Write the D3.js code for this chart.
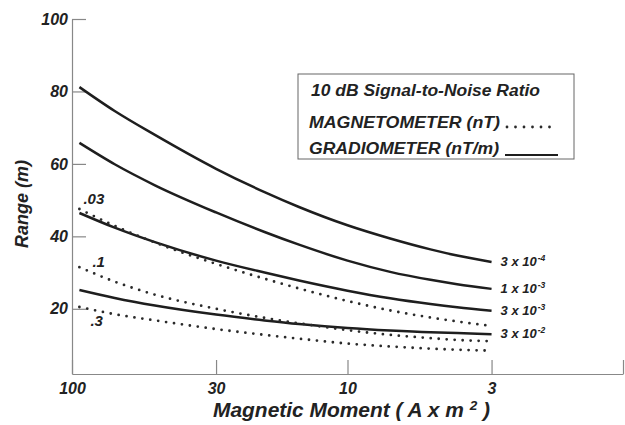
<!DOCTYPE html>
<html>
<head>
<meta charset="utf-8">
<script src="https://cdn.jsdelivr.net/npm/d3@7"></script>
<style>
  body { margin: 0; background: #fff; }
  text { font-family: "Liberation Sans", Arial, Helvetica, sans-serif; font-weight: bold; font-style: italic; fill: #222; }
</style>
</head>
<body>
<svg id="chart"></svg>
<script>
// magnetic moment (A x m^2), read left to right
const moment = [94, 70, 50, 30, 20, 15, 10, 7, 5, 4, 3];

// gradiometer curves (nT/m), range in m
const grad3e4 = [81.2, 74.6, 68.0, 58.65, 52.2, 48.1, 43.05, 39.4, 36.4, 34.7, 32.9];
const grad1e3 = [65.8, 59.9, 54.1, 46.6, 41.2, 37.7, 33.3, 30.2, 28.0, 26.8, 25.5];
const grad3e3 = [46.45, 42.4, 38.4, 33.3, 30.0, 27.8, 25.0, 22.9, 21.3, 20.4, 19.45];
const grad3e2 = [25.2, 23.0, 20.9, 18.4, 16.8, 15.8, 14.7, 14.0, 13.5, 13.3, 13.0];

// magnetometer curves (nT), range in m
const mag03 = [47.55, 42.9, 38.3, 32.4, 28.3, 25.6, 22.15, 19.55, 17.6, 16.5, 15.25];
const mag1 = [31.5, 27.5, 23.9, 20.0, 17.5, 16.0, 14.1, 12.8, 11.9, 11.4, 11.05];
const mag3 = [20.5, 18.5, 16.8, 14.4, 12.8, 11.75, 10.4, 9.6, 9.0, 8.7, 8.45];

const gradLabels = [["3 x 10", "-4"], ["1 x 10", "-3"], ["3 x 10", "-3"], ["3 x 10", "-2"]];
const magLabels = [".03", ".1", ".3"];

const xTicks = [100, 30, 10, 3, 1];
const xTickLabels = ["100", "30", "10", "3", ""];
const yTicks = [20, 40, 60, 80, 100];

const width = 625, height = 425;

const svg = d3.select("#chart")
  .attr("width", width)
  .attr("height", height);

const x = d3.scaleLog().domain([100, 1]).range([72, 623]);
const y = d3.scaleLinear().domain([2, 100]).range([374, 19]);

// axes
const xAxis = d3.axisBottom(x)
  .tickValues(xTicks)
  .tickFormat((d, i) => xTickLabels[i])
  .tickSizeInner(-14)
  .tickSizeOuter(0)
  .tickPadding(6);

const gx = svg.append("g")
  .attr("transform", `translate(0,${y(2)})`)
  .call(xAxis);

const yAxis = d3.axisLeft(y)
  .tickValues(yTicks)
  .tickSizeInner(-14)
  .tickSizeOuter(0)
  .tickPadding(4);

const gy = svg.append("g")
  .attr("transform", `translate(${x(100)},0)`)
  .call(yAxis);

[gx, gy].forEach(g => {
  g.select(".domain").attr("stroke", "#888").attr("stroke-width", 1.2);
  g.selectAll(".tick line").attr("stroke", "#888").attr("stroke-width", 1.2);
  g.selectAll(".tick text")
    .style("font-family", '"Liberation Sans", Arial, sans-serif')
    .style("font-weight", "bold")
    .style("font-style", "italic")
    .style("font-size", "16px")
    .attr("fill", "#222");
});
gx.selectAll(".tick text").attr("dy", "0.9em");

// axis titles
svg.append("text")
  .attr("transform", `translate(28,204) rotate(-90)`)
  .attr("text-anchor", "middle")
  .style("font-size", "18px")
  .text("Range (m)");

const xt = svg.append("text")
  .attr("x", 213)
  .attr("y", 417)
  .attr("textLength", 277)
  .attr("lengthAdjust", "spacingAndGlyphs")
  .style("font-size", "20px");
xt.append("tspan").text("Magnetic Moment ( A x m ");
xt.append("tspan").attr("dy", -7).style("font-size", "13px").text("2");
xt.append("tspan").attr("dy", 7).text(" )");

// curves
const line = d3.line()
  .x((d, i) => x(moment[i]))
  .y(d => y(d))
  .curve(d3.curveMonotoneX);

const gradSeries = [grad3e4, grad1e3, grad3e3, grad3e2];
const magSeries = [mag03, mag1, mag3];

svg.selectAll(".grad")
  .data(gradSeries)
  .enter()
  .append("path")
  .attr("class", "grad")
  .attr("d", line)
  .attr("fill", "none")
  .attr("stroke", "#1e1e1e")
  .attr("stroke-width", 2.5);

svg.selectAll(".mag")
  .data(magSeries)
  .enter()
  .append("path")
  .attr("class", "mag")
  .attr("d", line)
  .attr("fill", "none")
  .attr("stroke", "#2a2a2a")
  .attr("stroke-width", 2.8)
  .attr("stroke-linecap", "round")
  .attr("stroke-dasharray", "0,8");

// labels at the right end of gradiometer curves
gradSeries.forEach((s, i) => {
  const t = svg.append("text")
    .attr("x", x(3) + 9)
    .attr("y", y(s[s.length - 1]) + 4)
    .style("font-size", "13px");
  t.append("tspan").text(gradLabels[i][0]);
  t.append("tspan").attr("dx", 1).attr("dy", -5).style("font-size", "8.5px").text(gradLabels[i][1]);
});

// labels at the left start of magnetometer curves
const magOffsets = [[4, -5], [13, 0], [11, 19]];
magSeries.forEach((s, i) => {
  svg.append("text")
    .attr("x", x(moment[0]) + magOffsets[i][0])
    .attr("y", y(s[0]) + magOffsets[i][1])
    .style("font-size", "15px")
    .text(magLabels[i]);
});

// legend
const legend = svg.append("g").attr("transform", "translate(298,74)");

legend.append("rect")
  .attr("width", 276)
  .attr("height", 85)
  .attr("fill", "#fff")
  .attr("stroke", "#666")
  .attr("stroke-width", 1);

legend.append("text")
  .attr("x", 13)
  .attr("y", 22)
  .attr("textLength", 229)
  .attr("lengthAdjust", "spacingAndGlyphs")
  .style("font-size", "16px")
  .text("10 dB Signal-to-Noise Ratio");

legend.append("text")
  .attr("x", 11)
  .attr("y", 54)
  .attr("textLength", 191)
  .attr("lengthAdjust", "spacingAndGlyphs")
  .style("font-size", "16px")
  .text("MAGNETOMETER (nT)");

legend.append("line")
  .attr("x1", 209).attr("x2", 260)
  .attr("y1", 53).attr("y2", 53)
  .attr("stroke", "#2a2a2a")
  .attr("stroke-width", 2.8)
  .attr("stroke-linecap", "round")
  .attr("stroke-dasharray", "0,8.5");

legend.append("text")
  .attr("x", 11)
  .attr("y", 80)
  .attr("textLength", 190)
  .attr("lengthAdjust", "spacingAndGlyphs")
  .style("font-size", "16px")
  .text("GRADIOMETER (nT/m)");

legend.append("line")
  .attr("x1", 207).attr("x2", 260)
  .attr("y1", 81).attr("y2", 81)
  .attr("stroke", "#1e1e1e")
  .attr("stroke-width", 2.2);
</script>
</body>
</html>
